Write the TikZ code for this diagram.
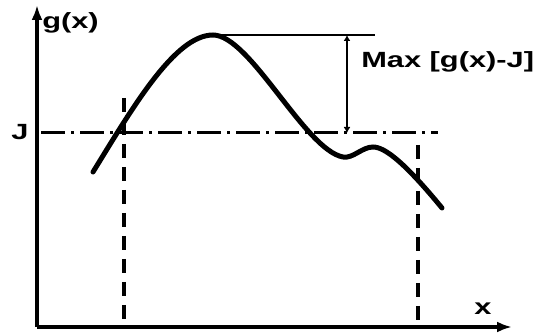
\documentclass[tikz,border=0pt]{standalone}
\usepackage{fontspec}
\setmainfont{Liberation Sans}
\usetikzlibrary{arrows.meta,positioning,calc}

\begin{document}
\begin{tikzpicture}[
    x=1pt, y=-1pt,
    axis/.style={line width=3.6pt, -{Latex[length=15pt,width=11pt]}},
    curve/.style={line width=5pt, line cap=round},
    drop/.style={line width=3.2pt, dash pattern=on 14pt off 9pt},
    level/.style={line width=3pt, dash pattern=on 24pt off 6pt on 3pt off 6pt},
    span/.style={line width=2.6pt, {Latex[length=6pt,width=7pt]}-{Latex[length=6pt,width=7pt]}},
    lbl/.style={font=\fontsize{22}{24}\selectfont\bfseries, xscale=1.4, inner sep=0pt}
]
    \useasboundingbox (0,0) rectangle (550,334);

    % axes
    \coordinate (origin) at (37,327);
    \coordinate (ytip) at (37,5);
    \coordinate (xtip) at (512,327);
    \draw [axis] (origin) -- (ytip);
    \draw [axis] (origin) -- (xtip);
    \node [lbl, anchor=base west] (glab) at (42,29) {g(x)};
    \node [lbl, anchor=base west] (xlab) at (474,315) {x};

    % threshold level
    \coordinate (levA) at (41,133);
    \coordinate (levB) at (438,133);
    \draw [level] (levA) -- (levB);
    \node [lbl, anchor=base west] (jlab) at (11,140) {J};

    % g(x)
    \coordinate (peak) at (213,35);
    \coordinate (low) at (343,157);
    \coordinate (bump) at (373,147);
    \draw [curve] (93,172) .. controls (133,107) and (175,35) .. (peak)
        .. controls (250,35) and (305,150) .. (low)
        .. controls (353,158.8) and (362,147) .. (bump)
        .. controls (385,147) and (405,163) .. (442,208);

    % maximum and gap to level
    \coordinate (topB) at (375,35);
    \draw [line width=2.4pt] (peak) -- (topB);
    \coordinate (spanT) at (347,35);
    \coordinate (spanB) at (347,133);
    \draw [span] (spanT) -- (spanB);
    \node [lbl, anchor=base west] (maxlab) at (361,68) {Max [g(x)-J]};

    % crossings down to the x axis
    \coordinate (dropA) at (124,98);
    \coordinate (dropB) at (418,145);
    \draw [drop] (dropA) -- (dropA |- origin);
    \draw [drop] (dropB) -- (dropB |- origin);
\end{tikzpicture}
\end{document}
